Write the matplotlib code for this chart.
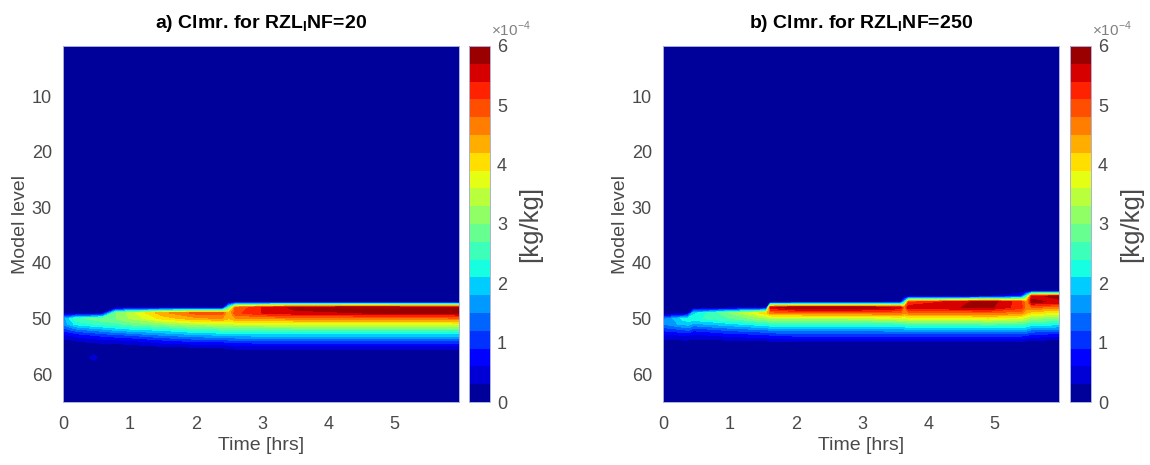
import numpy as np
import matplotlib
matplotlib.use('Agg')
import matplotlib.pyplot as plt

plt.rcParams['font.family'] = ['Liberation Sans', 'DejaVu Sans']
plt.rcParams['mathtext.fontset'] = 'custom'
plt.rcParams['mathtext.rm'] = 'Liberation Sans'
plt.rcParams['mathtext.bf'] = 'Liberation Sans:bold'

# model levels that hold cloud (all other levels are zero)
cloud_levels = [45, 46, 47, 48, 49, 50, 51, 52, 53, 54, 55, 56, 57, 58]

# panel a: RZL_INF=20, times [hrs] and profiles [1e-4 kg/kg] on cloud_levels
time_a = [0.0, 0.2, 0.32, 0.46, 0.6, 0.8, 1.0, 1.5, 2.0, 2.4, 2.5, 2.6, 3.0, 3.5, 4.5, 5.97]
prof_a = [
    [0, 0, 0, 0, 0,   1.6, 1.6, 1.0, 0.5, 0.2,  0,    0,    0,    0],
    [0, 0, 0, 0, 0,   2.6, 2.2, 1.4, 0.7, 0.3,  0.1,  0,    0,    0],
    [0, 0, 0, 0, 0,   2.7, 2.3, 1.5, 0.8, 0.35, 0.1,  0,    0,    0],
    [0, 0, 0, 0, 0,   2.8, 2.4, 1.6, 0.9, 0.4,  0.1,  0,    0.55, 0],
    [0, 0, 0, 0, 0.3, 2.9, 2.5, 1.7, 1.0, 0.45, 0.1,  0,    0,    0],
    [0, 0, 0, 0, 3.0, 3.0, 2.6, 1.9, 1.1, 0.5,  0.1,  0,    0,    0],
    [0, 0, 0, 0, 3.4, 3.3, 2.8, 2.0, 1.2, 0.55, 0.15, 0,    0,    0],
    [0, 0, 0, 0, 4.4, 4.0, 3.1, 2.2, 1.5, 0.8,  0.3,  0,    0,    0],
    [0, 0, 0, 0, 4.9, 4.4, 3.4, 2.5, 1.7, 1.0,  0.35, 0,    0,    0],
    [0, 0, 0, 0, 4.9, 4.5, 3.5, 2.6, 1.8, 1.0,  0.4,  0,    0,    0],
    [0, 0, 0, 2.5, 4.2, 4.2, 3.5, 2.6, 1.8, 1.1, 0.45, 0.05, 0,    0],
    [0, 0, 0, 4.8, 5.0, 4.5, 3.6, 2.7, 1.9, 1.1, 0.5,  0.1,  0,    0],
    [0, 0, 0, 5.4, 5.4, 4.5, 3.6, 2.7, 1.9, 1.2, 0.5,  0.1,  0,    0],
    [0, 0, 0, 5.8, 5.6, 4.6, 3.7, 2.7, 1.9, 1.2, 0.5,  0.15, 0,    0],
    [0, 0, 0, 5.9, 5.7, 4.6, 3.7, 2.7, 1.9, 1.2, 0.5,  0.15, 0,    0],
    [0, 0, 0, 5.8, 5.8, 4.7, 3.7, 2.7, 1.9, 1.2, 0.5,  0.15, 0,    0],
]

# panel b: RZL_INF=250
time_b = [0.0, 0.3, 0.38, 0.46, 1.0, 1.5, 1.56, 1.62, 2.0, 3.0, 3.58, 3.64, 3.7,
          4.5, 4.9, 5.4, 5.48, 5.56, 5.97]
prof_b = [
    [0, 0,   0,   0,   0,   1.4, 1.5, 1.0, 0.5, 0.2,  0,    0, 0, 0],
    [0, 0,   0,   0,   0,   2.2, 1.9, 1.2, 0.6, 0.25, 0.05, 0, 0, 0],
    [0, 0,   0,   0,   0.3, 2.3, 1.9, 1.3, 0.6, 0.25, 0.05, 0, 0, 0],
    [0, 0,   0,   0,   2.0, 2.3, 1.7, 1.0, 0.5, 0.2,  0,    0, 0, 0],
    [0, 0,   0,   0,   3.0, 2.7, 2.0, 1.3, 0.7, 0.25, 0,    0, 0, 0],
    [0, 0,   0,   0,   4.0, 3.2, 2.3, 1.5, 0.8, 0.3,  0.05, 0, 0, 0],
    [0, 0,   0,   0.3, 4.1, 3.2, 2.3, 1.5, 0.8, 0.3,  0.05, 0, 0, 0],
    [0, 0,   0,   5.6, 4.6, 3.3, 2.4, 1.6, 0.9, 0.35, 0.05, 0, 0, 0],
    [0, 0,   0,   6.0, 4.7, 3.3, 2.4, 1.6, 1.0, 0.35, 0.05, 0, 0, 0],
    [0, 0,   0,   6.0, 4.7, 3.4, 2.4, 1.6, 1.0, 0.35, 0.05, 0, 0, 0],
    [0, 0,   0.3, 5.6, 4.8, 3.6, 2.5, 1.7, 1.0, 0.35, 0.05, 0, 0, 0],
    [0, 0,   2.0, 4.6, 4.5, 3.6, 2.5, 1.7, 1.0, 0.35, 0.05, 0, 0, 0],
    [0, 0,   5.0, 5.6, 4.7, 3.7, 2.6, 1.8, 1.0, 0.35, 0.05, 0, 0, 0],
    [0, 0,   5.6, 5.7, 4.7, 3.7, 2.6, 1.8, 1.0, 0.35, 0.05, 0, 0, 0],
    [0, 0.3, 5.9, 5.8, 4.8, 3.8, 2.7, 1.8, 1.0, 0.35, 0.05, 0, 0, 0],
    [0, 0.8, 5.2, 5.2, 4.6, 3.6, 2.6, 1.8, 1.0, 0.35, 0.05, 0, 0, 0],
    [0, 2.5, 4.4, 4.6, 4.2, 3.4, 2.5, 1.7, 0.9, 0.3,  0.05, 0, 0, 0],
    [0, 5.6, 5.8, 4.8, 4.0, 3.1, 2.3, 1.5, 0.8, 0.25, 0,    0, 0, 0],
    [0, 5.8, 5.6, 4.6, 3.8, 3.0, 2.2, 1.4, 0.7, 0.2,  0,    0, 0, 0],
]

titles = [r'a) Clmr. for RZL$_\mathbf{I}$NF=20', r'b) Clmr. for RZL$_\mathbf{I}$NF=250']
n_levels = 65
clevs = np.linspace(0, 6e-4, 21)
gray = '#4a4a4a'
edge = '#aab0d8'


def make_field(profiles):
    field = np.zeros((n_levels, len(profiles)))
    rows = np.array(cloud_levels) - 1
    field[rows, :] = np.array(profiles).T * 1e-4
    return field


fig = plt.figure(figsize=(11.5, 4.65), dpi=100)
W, H = 1150, 465

panels = [(time_a, prof_a, 63, 469), (time_b, prof_b, 663, 1070)]
levels_y = np.arange(1, n_levels + 1)

for i, (t, prof, x0, cx0) in enumerate(panels):
    ax = fig.add_axes([x0 / W, 1 - 402 / H, 396 / W, 356 / H])
    cax = fig.add_axes([cx0 / W, 1 - 402 / H, 21 / W, 356 / H])

    cs = ax.contourf(t, levels_y, make_field(prof), levels=clevs, cmap='jet')
    ax.set_xlim(0, t[-1])
    ax.set_ylim(n_levels, 1)
    ax.set_xticks([0, 1, 2, 3, 4, 5])
    ax.set_yticks([10, 20, 30, 40, 50, 60])
    ax.tick_params(length=0, labelsize=13, colors=gray)
    ax.tick_params(axis='x', pad=10)
    ax.tick_params(axis='y', pad=8)
    for s in ax.spines.values():
        s.set_color(edge)
        s.set_linewidth(0.7)
    ax.set_xlabel('Time [hrs]', fontsize=14, color=gray, labelpad=3)
    ax.set_ylabel('Model level', fontsize=14, color=gray, labelpad=2)
    ax.set_title(titles[i], fontsize=14, fontweight='bold', pad=13)

    cb = fig.colorbar(cs, cax=cax, ticks=np.arange(7) * 1e-4)
    cb.ax.set_yticklabels([str(k) for k in range(7)])
    cb.ax.tick_params(length=0, labelsize=13, colors=gray, pad=5)
    cb.outline.set_edgecolor(edge)
    cb.outline.set_linewidth(0.7)
    cb.set_label('[kg/kg]', fontsize=18.5, color=gray, labelpad=8)
    fig.text((cx0 + 22) / W, 1 - 29 / H, r'×10$^{-4}$', fontsize=11, color='#808080',
             va='center', ha='left')

fig.savefig('out.png', dpi=100)
